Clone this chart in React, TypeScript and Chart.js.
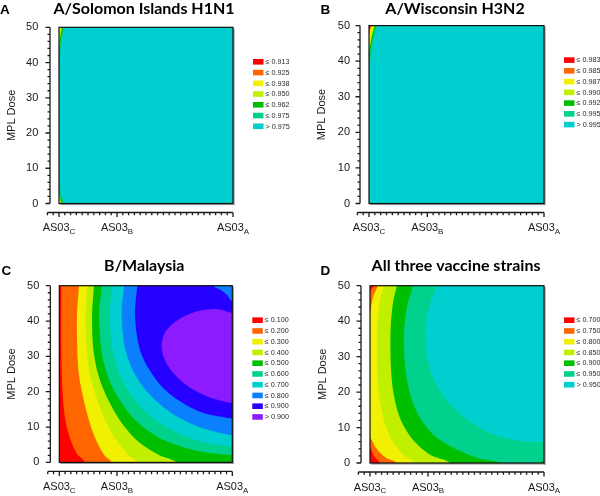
import React, { useEffect, useRef } from 'react';
import { Chart, registerables } from 'chart.js';
Chart.register(...registerables);

type Pt = [number, number];

// ---------- shared axes ----------
const X_MIN = 0.25, X_MAX = 1.0, Y_MIN = 0, Y_MAX = 50;
const X_AXIS_FROM = 0.2;
const X_MINOR_STEP = 0.025;
const X_TICK_VALUES = [0.25, 0.5, 1.0];
const X_TICK_TEXT = ['AS03', 'AS03', 'AS03'];
const X_TICK_SUB = ['C', 'B', 'A'];
const Y_STEP = 10;
const Y_MINOR_STEP = 2;
const Y_TITLE = 'MPL Dose';

// ---------- panel A ----------
const A_TITLE = 'A/Solomon Islands H1N1';
const A_LEGEND = ['≤ 0.913', '≤ 0.925', '≤ 0.938', '≤ 0.950', '≤ 0.962', '≤ 0.975', '> 0.975'];
const A_TL_938: Pt[] = [[0.258, 50], [0.2525, 48], [0.25, 46.5]];
const A_TL_950: Pt[] = [[0.262, 50], [0.2545, 47], [0.25, 44.5]];
const A_TL_962: Pt[] = [[0.267, 50], [0.258, 46.5], [0.252, 42], [0.25, 39]];
const A_TL_975: Pt[] = [[0.273, 50], [0.262, 46.5], [0.2545, 41], [0.25, 35]];
const A_BL_938: Pt[] = [[0.25, 1.5], [0.253, 0.5], [0.256, 0]];
const A_BL_950: Pt[] = [[0.25, 2.8], [0.256, 1], [0.261, 0]];
const A_BL_962: Pt[] = [[0.25, 4.5], [0.2555, 2], [0.266, 0]];
const A_BL_975: Pt[] = [[0.25, 7], [0.257, 3], [0.272, 0]];

// ---------- panel B ----------
const B_TITLE = 'A/Wisconsin H3N2';
const B_LEGEND = ['≤ 0.983', '≤ 0.985', '≤ 0.987', '≤ 0.990', '≤ 0.992', '≤ 0.995', '> 0.995'];
const B_TL_983: Pt[] = [[0.256, 50], [0.25, 49.3]];
const B_TL_985: Pt[] = [[0.262, 50], [0.254, 48.5], [0.25, 47.5]];
const B_TL_987: Pt[] = [[0.268, 50], [0.258, 47], [0.25, 44.5]];
const B_TL_990: Pt[] = [[0.274, 50], [0.262, 47], [0.254, 44], [0.25, 42.5]];
const B_TL_992: Pt[] = [[0.279, 50], [0.267, 47], [0.257, 43.5], [0.25, 41]];
const B_TL_995: Pt[] = [[0.285, 50], [0.272, 47], [0.262, 43], [0.25, 39]];

// ---------- panel C ----------
const C_TITLE = 'B/Malaysia';
const C_LEGEND = ['≤ 0.100', '≤ 0.200', '≤ 0.300', '≤ 0.400', '≤ 0.500', '≤ 0.600', '≤ 0.700', '≤ 0.800', '≤ 0.900', '> 0.900'];
const C_100: Pt[] = [[0.2587, 50], [0.2587, 32.4], [0.263, 21.1], [0.2746, 12.5], [0.296, 6.9], [0.325, 2.6], [0.361, 0]];
const C_200: Pt[] = [[0.335, 50], [0.3266, 41.8], [0.328, 32.4], [0.335, 24.8], [0.354, 18.2], [0.38, 11.6], [0.412, 5.9], [0.444, 2.2], [0.477, 0]];
const C_300: Pt[] = [[0.371, 50], [0.364, 41.8], [0.3685, 32.4], [0.383, 24.8], [0.412, 18.2], [0.452, 11.6], [0.501, 5.9], [0.549, 2.2], [0.592, 0]];
const C_400: Pt[] = [[0.4, 50], [0.392, 41.8], [0.397, 32.4], [0.419, 24.8], [0.458, 18.2], [0.516, 11.6], [0.592, 5.9], [0.679, 2.2], [0.759, 0]];
const C_500: Pt[] = [[0.4335, 50], [0.423, 41.8], [0.431, 32.4], [0.458, 24.8], [0.506, 18.2], [0.585, 11.6], [0.701, 6.4], [0.845, 3.3], [1.0, 2.0]];
const C_600: Pt[] = [[0.48, 50], [0.4697, 41.8], [0.48, 32.4], [0.513, 24.8], [0.571, 18.2], [0.6575, 12.5], [0.773, 8.0], [0.889, 5.5], [1.0, 4.5]];
const C_700: Pt[] = [[0.53, 50], [0.52, 41.8], [0.535, 32.4], [0.571, 25.8], [0.629, 20.1], [0.715, 14.9], [0.8165, 11.1], [0.918, 8.8], [1.0, 7.6]];
const C_800: Pt[] = [[0.588, 50], [0.578, 41.8], [0.597, 32.4], [0.636, 26.7], [0.694, 21.5], [0.773, 17.3], [0.874, 14.0], [1.0, 12.4]];
const C_800_CORNER: Pt[] = [[1.0, 45.6], [0.975, 47.5], [0.9465, 48.9], [0.918, 50]];
const C_900: Pt[] = [[1.0, 42.3], [0.932, 43.4], [0.845, 42.7], [0.766, 40.4], [0.711, 37.1], [0.694, 33.3], [0.704, 29.5], [0.744, 25.3], [0.809, 21.5], [0.889, 18.7], [0.961, 17.3], [1.0, 16.8]];

// ---------- panel D ----------
const D_TITLE = 'All three vaccine strains';
const D_LEGEND = ['≤ 0.700', '≤ 0.750', '≤ 0.800', '≤ 0.850', '≤ 0.900', '≤ 0.950', '> 0.950'];
const D_TL_700: Pt[] = [[0.267, 50], [0.257, 49.2], [0.25, 48.2]];
const D_BL_700: Pt[] = [[0.25, 4.2], [0.267, 1.9], [0.293, 0]];
const D_TL_750: Pt[] = [[0.283, 50], [0.267, 47.5], [0.256, 44.6], [0.25, 42.8]];
const D_BL_750: Pt[] = [[0.25, 7.0], [0.276, 4.2], [0.315, 1.6], [0.365, 0]];
const D_800: Pt[] = [[0.3075, 50], [0.293, 45.6], [0.283, 39], [0.2816, 29.6], [0.287, 20.2], [0.3075, 12.7], [0.343, 6.6], [0.394, 2.3], [0.444, 0]];
const D_850: Pt[] = [[0.365, 50], [0.35, 45.6], [0.339, 38.1], [0.339, 28.7], [0.35, 20.2], [0.379, 12.7], [0.434, 6.6], [0.509, 2.3], [0.595, 0]];
const D_900: Pt[] = [[0.434, 50], [0.411, 44.6], [0.3966, 37.1], [0.399, 28.7], [0.4167, 21.1], [0.454, 14.1], [0.523, 8.0], [0.6236, 3.8], [0.724, 1.2], [0.81, 0]];
const D_900_CORNER: Pt[] = [[0.9856, 0], [0.994, 0.5], [1.0, 0.85]];
const D_950: Pt[] = [[0.54, 50], [0.5115, 45.6], [0.491, 39.5], [0.491, 32.4], [0.516, 24.9], [0.573, 18.3], [0.6595, 12.7], [0.767, 8.5], [0.882, 6.3], [1.0, 5.9]];

type Region = { level: number; chains: Pt[][]; corners: string[] };
const FULL = ['BL', 'BR', 'TR', 'TL'];

const A_REGIONS: Region[] = [
  { level: 2, chains: [], corners: FULL },
  { level: 3, chains: [A_TL_938, A_BL_938], corners: ['BR', 'TR'] },
  { level: 4, chains: [A_TL_950, A_BL_950], corners: ['BR', 'TR'] },
  { level: 5, chains: [A_TL_962, A_BL_962], corners: ['BR', 'TR'] },
  { level: 6, chains: [A_TL_975, A_BL_975], corners: ['BR', 'TR'] },
];
const B_REGIONS: Region[] = [
  { level: 0, chains: [], corners: FULL },
  { level: 1, chains: [B_TL_983], corners: ['BL', 'BR', 'TR'] },
  { level: 2, chains: [B_TL_985], corners: ['BL', 'BR', 'TR'] },
  { level: 3, chains: [B_TL_987], corners: ['BL', 'BR', 'TR'] },
  { level: 4, chains: [B_TL_990], corners: ['BL', 'BR', 'TR'] },
  { level: 5, chains: [B_TL_992], corners: ['BL', 'BR', 'TR'] },
  { level: 6, chains: [B_TL_995], corners: ['BL', 'BR', 'TR'] },
];
const C_REGIONS: Region[] = [
  { level: 0, chains: [], corners: FULL },
  { level: 1, chains: [C_100], corners: ['BR', 'TR'] },
  { level: 2, chains: [C_200], corners: ['BR', 'TR'] },
  { level: 3, chains: [C_300], corners: ['BR', 'TR'] },
  { level: 4, chains: [C_400], corners: ['BR', 'TR'] },
  { level: 5, chains: [C_500], corners: ['TR'] },
  { level: 6, chains: [C_600], corners: ['TR'] },
  { level: 7, chains: [C_700], corners: ['TR'] },
  { level: 8, chains: [C_800, C_800_CORNER], corners: [] },
  { level: 9, chains: [C_900], corners: [] },
];
const D_REGIONS: Region[] = [
  { level: 0, chains: [], corners: FULL },
  { level: 1, chains: [D_TL_700, D_BL_700], corners: ['BR', 'TR'] },
  { level: 2, chains: [D_TL_750, D_BL_750], corners: ['BR', 'TR'] },
  { level: 3, chains: [D_800], corners: ['BR', 'TR'] },
  { level: 4, chains: [D_850], corners: ['BR', 'TR'] },
  { level: 5, chains: [D_900, D_900_CORNER], corners: ['TR'] },
  { level: 6, chains: [D_950], corners: ['TR'] },
];

// ---------- styles ----------
const PALETTE = ['#ff0000', '#ff6600', '#f0f000', '#c0f000', '#00bf00', '#00d18c', '#00cfcf', '#0a80ff', '#2600ff', '#8c1cff'];
const PALETTE7 = ['#ff0000', '#ff6600', '#f0f000', '#c0f000', '#00bf00', '#00d18c', '#00cfcf'];
const FONT = '"Liberation Sans", Arial, sans-serif';
const TITLE_FONT = 'Lato, "Open Sans", sans-serif';
const INK = '#1a1a1a';

type Layout = {
  left: number; top: number;
  l: number; r: number; t: number; b: number;
  titleX: number; titleY: number; letterX: number; letterY: number; labelRight: number;
};

const PANELS: { letter: string; title: string; legend: string[]; regions: Region[]; colors: string[]; lay: Layout }[] = [
  { letter: 'A', title: A_TITLE, legend: A_LEGEND, regions: A_REGIONS, colors: PALETTE7,
    lay: { left: 0, top: 0, l: 59, r: 233, t: 24.5, b: 203.5, titleX: 144, titleY: 14, letterX: 0, letterY: 14, labelRight: 38.3 } },
  { letter: 'B', title: B_TITLE, legend: B_LEGEND, regions: B_REGIONS, colors: PALETTE7,
    lay: { left: 300, top: 0, l: 69, r: 244, t: 24.5, b: 203.5, titleX: 155, titleY: 14, letterX: 20.5, letterY: 14, labelRight: 50 } },
  { letter: 'C', title: C_TITLE, legend: C_LEGEND, regions: C_REGIONS, colors: PALETTE,
    lay: { left: 0, top: 248, l: 59.3, r: 232.3, t: 37.7, b: 214.4, titleX: 144.3, titleY: 23.3, letterX: 1.5, letterY: 26.5, labelRight: 39.3 } },
  { letter: 'D', title: D_TITLE, legend: D_LEGEND, regions: D_REGIONS, colors: PALETTE7,
    lay: { left: 300, top: 248, l: 70, r: 244, t: 37.7, b: 215, titleX: 156, titleY: 23.3, letterX: 20.5, letterY: 26.5, labelRight: 50 } },
];

const OUT_X = 0.05, OUT_Y = 3;

function buildPolygon(r: Region) {
  const pts: Pt[] = [];
  const ext = (p: Pt): Pt | null => {
    const [x, y] = p;
    if (y >= Y_MAX) return [x, Y_MAX + OUT_Y];
    if (y <= Y_MIN) return [x, Y_MIN - OUT_Y];
    if (x <= X_MIN) return [X_MIN - OUT_X, y];
    if (x >= X_MAX) return [X_MAX + OUT_X, y];
    return null;
  };
  for (const ch of r.chains) {
    const s = ext(ch[0]);
    if (s) pts.push(s);
    ch.forEach((p) => pts.push(p));
    const e = ext(ch[ch.length - 1]);
    if (e) pts.push(e);
  }
  const cm: Record<string, Pt> = {
    TL: [X_MIN - OUT_X, Y_MAX + OUT_Y], TR: [X_MAX + OUT_X, Y_MAX + OUT_Y],
    BR: [X_MAX + OUT_X, Y_MIN - OUT_Y], BL: [X_MIN - OUT_X, Y_MIN - OUT_Y],
  };
  r.corners.forEach((c) => pts.push(cm[c]));
  // rotate so the list starts at its max x (keeps data unsorted -> nothing trimmed)
  let mi = 0;
  pts.forEach((p, i) => { if (p[0] > pts[mi][0]) mi = i; });
  const rot = pts.slice(mi).concat(pts.slice(0, mi));
  return rot.map(([x, y]) => ({ x, y }));
}

function decoPlugin(p: typeof PANELS[number]) {
  return {
    id: 'deco' + p.letter,
    afterDraw(chart: any) {
      const ctx: CanvasRenderingContext2D = chart.ctx;
      const ca = chart.chartArea;
      const xs = chart.scales.x, ys = chart.scales.y;
      const lay = p.lay;
      ctx.save();
      // frame shadow + frame
      ctx.fillStyle = '#9a9a9a';
      ctx.fillRect(ca.right, ca.top + 1, 1.6, ca.bottom - ca.top + 0.6);
      ctx.fillRect(ca.left + 1, ca.bottom, ca.right - ca.left + 0.6, 1.6);
      ctx.strokeStyle = '#111';
      ctx.lineWidth = 1.2;
      ctx.strokeRect(ca.left, ca.top, ca.right - ca.left, ca.bottom - ca.top);

      // y axis
      ctx.strokeStyle = INK;
      ctx.lineWidth = 1.3;
      const ax = ca.left - 9;
      ctx.beginPath();
      ctx.moveTo(ax, ys.getPixelForValue(Y_MIN));
      ctx.lineTo(ax, ys.getPixelForValue(Y_MAX));
      const ny = Math.round((Y_MAX - Y_MIN) / Y_MINOR_STEP);
      for (let i = 0; i <= ny; i++) {
        const v = Y_MIN + i * Y_MINOR_STEP;
        const py = ys.getPixelForValue(v);
        const major = Math.abs(v / Y_STEP - Math.round(v / Y_STEP)) < 1e-6;
        ctx.moveTo(ax, py);
        ctx.lineTo(ax - (major ? 4.5 : 2.5), py);
      }
      ctx.stroke();

      // x axis
      const ay = ca.bottom + 9;
      ctx.beginPath();
      ctx.moveTo(xs.getPixelForValue(X_AXIS_FROM), ay);
      ctx.lineTo(xs.getPixelForValue(X_MAX), ay);
      const nx = Math.round((X_MAX - X_AXIS_FROM) / X_MINOR_STEP);
      for (let i = 0; i <= nx; i++) {
        const v = X_AXIS_FROM + i * X_MINOR_STEP;
        const px = xs.getPixelForValue(v);
        const major = X_TICK_VALUES.some((t) => Math.abs(t - v) < 1e-6);
        ctx.moveTo(px, ay);
        ctx.lineTo(px, ay + (major ? 4.5 : 2.8));
      }
      ctx.stroke();

      // x labels with subscripts
      ctx.fillStyle = INK;
      ctx.textBaseline = 'alphabetic';
      X_TICK_VALUES.forEach((v, i) => {
        const px = xs.getPixelForValue(v);
        ctx.font = `11px ${FONT}`;
        const w1 = ctx.measureText(X_TICK_TEXT[i]).width;
        ctx.font = `8px ${FONT}`;
        const w2 = ctx.measureText(X_TICK_SUB[i]).width;
        const x0 = px - (w1 + w2) / 2;
        const base = ca.bottom + 27.5;
        ctx.font = `11px ${FONT}`;
        ctx.textAlign = 'left';
        ctx.fillText(X_TICK_TEXT[i], x0, base);
        ctx.font = `8px ${FONT}`;
        ctx.fillText(X_TICK_SUB[i], x0 + w1, base + 2.8);
      });

      // legend
      ctx.font = `7.2px ${FONT}`;
      ctx.textBaseline = 'middle';
      p.legend.forEach((lab, i) => {
        const y = ca.top + 34.5 + i * 10.75;
        const x = ca.right + 20;
        ctx.fillStyle = p.colors[i];
        ctx.fillRect(x, y - 2.8, 10.5, 5.6);
        ctx.fillStyle = '#2a2a2a';
        ctx.fillText(lab, x + 12.5, y + 0.3);
      });

      // title + letter
      ctx.fillStyle = '#000';
      ctx.textBaseline = 'alphabetic';
      ctx.textAlign = 'center';
      ctx.font = `bold 16px ${TITLE_FONT}`;
      ctx.fillText(p.title, lay.titleX, lay.titleY);
      ctx.textAlign = 'left';
      ctx.font = `bold 13.5px ${FONT}`;
      ctx.fillText(p.letter, lay.letterX, lay.letterY);
      ctx.restore();
    },
  };
}

function Panel({ p }: { p: typeof PANELS[number] }) {
  const ref = useRef<HTMLCanvasElement | null>(null);
  useEffect(() => {
    if (!ref.current) return;
    const lay = p.lay;
    const n = p.regions.length;
    const datasets = p.regions.map((r, i) => ({
      type: 'scatter' as const,
      data: buildPolygon(r),
      showLine: true,
      borderWidth: 0,
      pointRadius: 0,
      pointHoverRadius: 0,
      backgroundColor: p.colors[r.level],
      borderColor: p.colors[r.level],
      fill: 'shape',
      tension: r.chains.length ? 0.3 : 0,
      capBezierPoints: false,
      order: n - i,
    }));
    const chart = new Chart(ref.current, {
      type: 'scatter',
      data: { datasets: datasets as any },
      options: {
        animation: false,
        responsive: false,
        devicePixelRatio: 1,
        events: [],
        layout: { padding: { left: 0, top: lay.t, right: 300 - lay.r, bottom: 248 - lay.b } },
        plugins: { legend: { display: false }, tooltip: { enabled: false } },
        scales: {
          x: { type: 'linear', min: X_MIN, max: X_MAX, display: false },
          y: {
            type: 'linear', min: Y_MIN, max: Y_MAX,
            grid: { display: false, drawTicks: false },
            border: { display: false },
            ticks: { stepSize: Y_STEP, padding: lay.l - lay.labelRight, color: INK, font: { family: FONT, size: 11 } },
            title: { display: true, text: Y_TITLE, color: INK, font: { family: FONT, size: 11 }, padding: { top: lay.l - 47.5 - 6.6, bottom: 0 } },
            afterFit: (s: any) => { s.width = lay.l; },
          },
        },
      } as any,
      plugins: [decoPlugin(p)],
    });
    return () => chart.destroy();
  }, [p]);
  return (
    <canvas
      ref={ref}
      width={300}
      height={248}
      style={{ position: 'absolute', left: p.lay.left, top: p.lay.top, width: 300, height: 248 }}
    />
  );
}

export default function App() {
  return (
    <div style={{ position: 'absolute', left: 0, top: 0, width: 600, height: 496, background: '#fff' }}>
      {PANELS.map((p) => <Panel key={p.letter} p={p} />)}
    </div>
  );
}
